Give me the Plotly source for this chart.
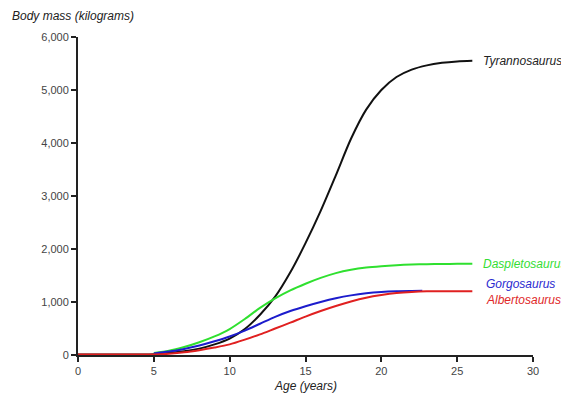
import plotly.graph_objects as go

# Data
t_age = [0, 2, 4, 5, 6, 7, 8, 9, 10, 11, 12, 13, 14, 15, 16, 17, 18, 19, 20, 21, 22, 23, 24, 25, 26]
t_mass = [10, 10, 10, 15, 40, 70, 120, 200, 310, 490, 760, 1100, 1560, 2110, 2720, 3390, 4080, 4630, 5000, 5245, 5385, 5465, 5512, 5538, 5550]

d_age = [5, 6, 7, 8, 9, 10, 11, 12, 13, 14, 15, 16, 17, 18, 19, 20, 21, 22, 23, 24, 25, 26]
d_mass = [40, 80, 150, 240, 350, 490, 680, 890, 1070, 1220, 1345, 1455, 1545, 1608, 1650, 1676, 1695, 1707, 1714, 1718, 1720, 1720]

g_age = [5, 6, 7, 8, 9, 10, 11, 12, 13, 14, 15, 16, 17, 18, 19, 20, 21, 22, 22.7]
g_mass = [30, 65, 115, 180, 260, 350, 460, 590, 720, 830, 920, 1000, 1070, 1125, 1165, 1190, 1203, 1208, 1210]

a_age = [0, 2, 4, 5, 6, 7, 8, 9, 10, 11, 12, 13, 14, 15, 16, 17, 18, 19, 20, 21, 22, 23, 24, 26]
a_mass = [10, 10, 10, 10, 25, 50, 90, 140, 200, 290, 390, 500, 610, 725, 830, 925, 1010, 1080, 1130, 1168, 1190, 1202, 1205, 1205]

y_ticks = [0, 1000, 2000, 3000, 4000, 5000, 6000]
y_tick_labels = ["0", "1,000", "2,000", "3,000", "4,000", "5,000", "6,000"]
x_ticks = [0, 5, 10, 15, 20, 25, 30]

series = [
    ("Tyrannosaurus", t_age, t_mass, "#111111", 5547),
    ("Daspletosaurus", d_age, d_mass, "#2fe02f", 1717),
    ("Gorgosaurus", g_age, g_mass, "#1c1ccc", 1340),
    ("Albertosaurus", a_age, a_mass, "#e02020", 1038),
]

FONT = "Liberation Sans, Arial, sans-serif"

fig = go.Figure()
for name, xs, ys, col, _ in series:
    fig.add_trace(go.Scatter(x=xs, y=ys, mode="lines", name=name,
                             line=dict(color=col, width=2, shape="spline", smoothing=0.8),
                             showlegend=False, hoverinfo="skip"))

label_colors = {"Tyrannosaurus": "#222222", "Daspletosaurus": "#33dd33",
                "Gorgosaurus": "#2a2ad0", "Albertosaurus": "#e02828"}
label_x = {"Tyrannosaurus": 26.6, "Daspletosaurus": 26.6, "Gorgosaurus": 26.75, "Albertosaurus": 26.75}
for name, xs, ys, col, ly in series:
    fig.add_annotation(x=label_x[name], y=ly, xref="x", yref="y", text="<i>" + name + "</i>",
                       showarrow=False, xanchor="left", yanchor="middle",
                       font=dict(family=FONT, size=12, color=label_colors[name]))

fig.add_annotation(x=-0.149, y=1.066, xref="paper", yref="paper",
                   text="<i>Body mass (kilograms)</i>", showarrow=False,
                   xanchor="left", yanchor="middle",
                   font=dict(family=FONT, size=12, color="#222222"))
fig.add_annotation(x=0.499, y=-0.097, xref="paper", yref="paper",
                   text="<i>Age (years)</i>", showarrow=False,
                   xanchor="center", yanchor="middle",
                   font=dict(family=FONT, size=12, color="#222222"))

fig.update_xaxes(range=[0, 30], tickvals=x_ticks, ticks="outside", ticklen=5, tickwidth=1.5,
                 tickcolor="#222", showline=True, linecolor="#222", linewidth=2,
                 showgrid=False, zeroline=False,
                 tickfont=dict(family=FONT, size=11, color="#444"))
fig.update_yaxes(range=[0, 6000], tickvals=y_ticks, ticktext=y_tick_labels, ticks="outside",
                 ticklen=5, tickwidth=1.5, tickcolor="#222", showline=True, linecolor="#222",
                 linewidth=2, showgrid=False, zeroline=False,
                 tickfont=dict(family=FONT, size=11, color="#444"))

# page body has an 8px default margin, so the figure is sized/margined to compensate
fig.update_layout(width=561, height=386, margin=dict(l=70, r=36, t=29, b=39),
                  plot_bgcolor="white", paper_bgcolor="white")

fig.write_html("out.html")
